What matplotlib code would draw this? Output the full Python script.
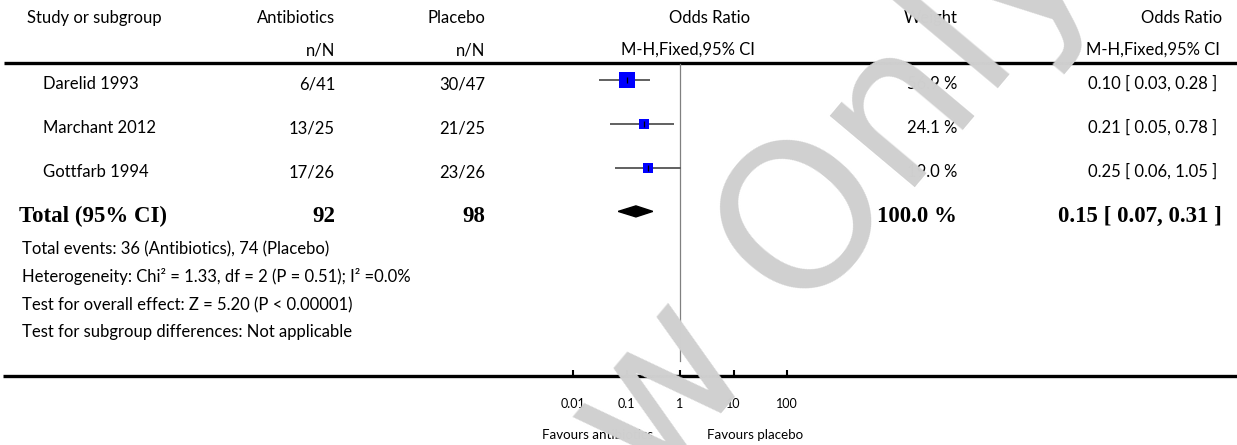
import numpy as np
import matplotlib
matplotlib.use("Agg")
import matplotlib.pyplot as plt
from matplotlib.patches import Polygon
from matplotlib.ticker import NullLocator

# data
studies = ["Darelid 1993", "Marchant 2012", "Gottfarb 1994"]
abx_events = ["6/41", "13/25", "17/26"]
plc_events = ["30/47", "21/25", "23/26"]
weights = [56.9, 24.1, 19.0]
odds = [0.10, 0.21, 0.25]
ci_low = [0.03, 0.05, 0.06]
ci_high = [0.28, 0.78, 1.05]

total_abx = 92
total_plc = 98
total_weight = 100.0
total_or = 0.15
total_low = 0.07
total_high = 0.31

footnotes = [
    "Total events: 36 (Antibiotics), 74 (Placebo)",
    "Heterogeneity: Chi\u00b2 = 1.33, df = 2 (P = 0.51); I\u00b2 =0.0%",
    "Test for overall effect: Z = 5.20 (P < 0.00001)",
    "Test for subgroup differences: Not applicable",
]
ticks = [0.01, 0.1, 1, 10, 100]
tick_labels = ["0.01", "0.1", "1", "10", "100"]

# layout (pixels, y measured from the top)
W, H = 1237, 445
SANS = "Lato"
SERIF = "Liberation Serif"
fs = 12
fs_bold = 16.5
text_base0, row_step = 89, 44      # baseline of first study row
mark_y0, mark_step = 80, 43.8      # centre of first square
marker_sizes = [12.2, 6.5, 6.5]

fig = plt.figure(figsize=(W / 100, H / 100), dpi=100)
bg = fig.add_axes([0, 0, 1, 1])
bg.set_xlim(0, W)
bg.set_ylim(H, 0)
bg.axis("off")

def txt(x, y, s, ha="left", size=fs, bold=False):
    bg.text(x, y, s, ha=ha, va="baseline", fontsize=size,
            family=SERIF if bold else SANS,
            fontweight="bold" if bold else "normal", color="black")

# headers
txt(27, 23, "Study or subgroup")
txt(335, 23, "Antibiotics", "right")
txt(335, 55, "n/N", "right")
txt(485, 23, "Placebo", "right")
txt(485, 55, "n/N", "right")
txt(750, 23, "Odds Ratio", "right")
txt(755, 55, "M-H,Fixed,95% CI", "right")
txt(958, 23, "Weight", "right")
txt(1222, 23, "Odds Ratio", "right")
txt(1220, 55, "M-H,Fixed,95% CI", "right")

bg.plot([4, W], [63, 63], color="black", lw=2.4, solid_capstyle="butt")
bg.plot([3, W], [376, 376], color="black", lw=2.4, solid_capstyle="butt")

for i, name in enumerate(studies):
    y = text_base0 + i * row_step
    txt(43, y, name)
    txt(335, y, abx_events[i], "right")
    txt(485, y, plc_events[i], "right")
    txt(957, y, f"{weights[i]:.1f} %", "right")
    txt(1217, y, f"{odds[i]:.2f} [ {ci_low[i]:.2f}, {ci_high[i]:.2f} ]", "right")

yt = 222
txt(19, yt, "Total (95% CI)", size=fs_bold, bold=True)
txt(335, yt, str(total_abx), "right", fs_bold, True)
txt(485, yt, str(total_plc), "right", fs_bold, True)
txt(957, yt, f"{total_weight:.1f} %", "right", fs_bold, True)
txt(1222, yt, f"{total_or:.2f} [ {total_low:.2f}, {total_high:.2f} ]", "right", fs_bold, True)

for y, line in zip([254, 282, 310, 337], footnotes):
    txt(22, y, line)

txt(653, 439, "Favours antibiotics", "right", 9.6)
txt(707, 439, "Favours placebo", "left", 9.6)

# forest plot
fx0, fx1, fy0, fy1 = 573, 787, 63, 376
ax = fig.add_axes([fx0 / W, (H - fy1) / H, (fx1 - fx0) / W, (fy1 - fy0) / H])
ax.set_xscale("log")
ax.set_xlim(0.01, 100)
ax.set_ylim((fy1 - mark_y0) / mark_step, (fy0 - mark_y0) / mark_step)
ax.patch.set_visible(False)
for sp in ax.spines.values():
    sp.set_visible(False)
ax.set_yticks([])

rows = np.arange(len(studies))
ax.hlines(rows, ci_low, ci_high, color="#606060", lw=1.4, zorder=2)
for i in rows:
    ax.plot(odds[i], i, marker="s", ms=marker_sizes[i], color="#0000ff",
            mec="#0000ff", mew=0, zorder=3)
    ax.plot(odds[i], i, marker="|", ms=4, color="black", mew=0.9, zorder=4)

half = 5.5 / mark_step
nt = len(studies)
ax.add_patch(Polygon([(total_low, nt), (total_or, nt - half),
                      (total_high, nt), (total_or, nt + half)],
                     closed=True, color="black", zorder=3))
ax.axvline(1, ymin=(fy1 - 361) / (fy1 - fy0), ymax=(fy1 - 64) / (fy1 - fy0),
           color="#808080", lw=0.9, zorder=1)

ax.set_xticks(ticks)
ax.set_xticklabels(tick_labels, family=SANS, fontsize=9)
ax.xaxis.set_minor_locator(NullLocator())
ax.tick_params(axis="x", direction="in", length=4.5, width=1.5, pad=16)

# watermark
wm = dict(rotation=50, rotation_mode="anchor", va="baseline", fontsize=146,
          family="DejaVu Sans", color="#d0d0d0", transform=bg.transData,
          zorder=10)
fig.text(797, 314, "Only", ha="left", **wm)
fig.text(760, 368, "For Peer Review", ha="right", **wm)

fig.savefig("out.png", dpi=100)
